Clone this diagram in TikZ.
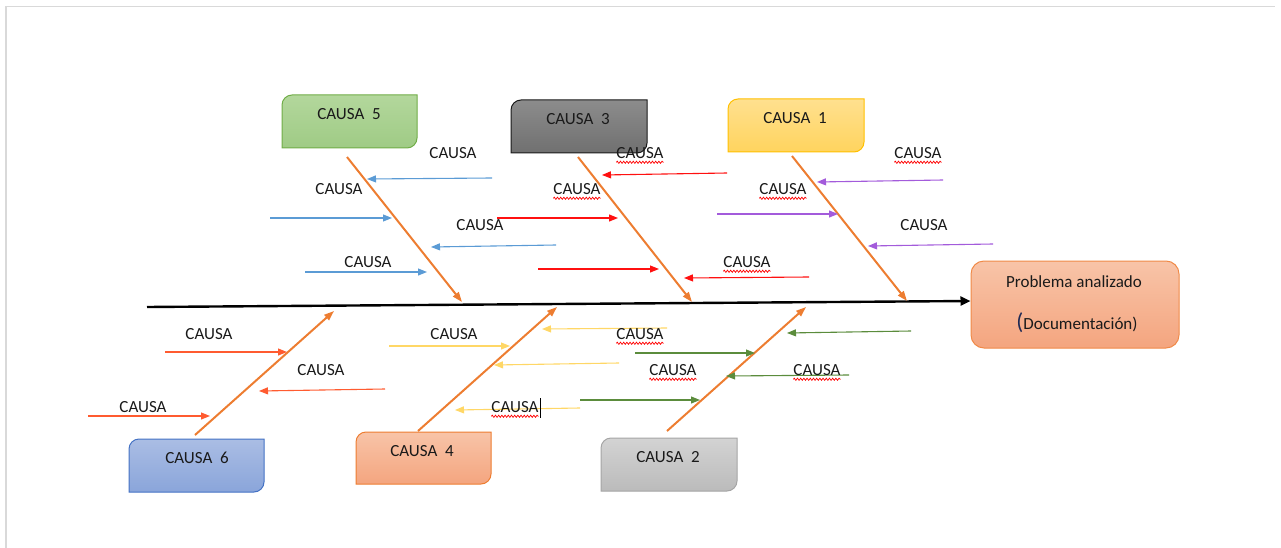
\documentclass[tikz,border=0pt]{standalone}
\usepackage{fontspec}
\setmainfont{Carlito}
\usetikzlibrary{arrows.meta,decorations.pathmorphing,calc}
\definecolor{frameg}{HTML}{D9D9D9}
\definecolor{boneor}{HTML}{ED7D31}
\definecolor{txt}{HTML}{1A1A1A}
\definecolor{twblue}{HTML}{5B9BD5}
\definecolor{twred}{HTML}{FF1010}
\definecolor{twpurp}{HTML}{A35BDB}
\definecolor{twora}{HTML}{FF5B30}
\definecolor{twyel}{HTML}{FFD766}
\definecolor{twgreen}{HTML}{5B8C3C}
\definecolor{gT}{HTML}{B3D79C}\definecolor{gB}{HTML}{9FCB85}\definecolor{gD}{HTML}{70AD47}
\definecolor{kT}{HTML}{8C8C8C}\definecolor{kB}{HTML}{707070}\definecolor{kD}{HTML}{1A1A1A}
\definecolor{yT}{HTML}{FFE08F}\definecolor{yB}{HTML}{FFD45E}\definecolor{yD}{HTML}{FFC000}
\definecolor{bT}{HTML}{AABDE4}\definecolor{bB}{HTML}{8AA5DA}\definecolor{bD}{HTML}{4472C4}
\definecolor{sT}{HTML}{F8C4A8}\definecolor{sB}{HTML}{F4A57F}\definecolor{sD}{HTML}{ED7D31}
\definecolor{lT}{HTML}{D3D3D3}\definecolor{lB}{HTML}{BBBBBB}\definecolor{lD}{HTML}{A5A5A5}
\definecolor{pD}{HTML}{F08A48}
\definecolor{parblue}{HTML}{1F2A55}
\tikzset{
  frame/.style={draw=frameg, line width=1.5pt},
  bone/.style={draw=boneor, fill=boneor, line width=2pt, -{Triangle[length=10pt,width=7pt]}},
  twig/.style={color=#1, line width=1.1pt, -{Triangle[length=9pt,width=7pt]}},
  spine/.style={draw=black, line width=2.4pt, -{Triangle[length=10pt,width=9pt]}},
  lbl/.style={font=\fontsize{17}{20}\selectfont, inner sep=0pt, text=txt},
  squig/.style={draw=red, line width=0.7pt, decorate, decoration={snake, amplitude=1.1pt, segment length=3.2pt}},
  bxg/.style={top color=gT, bottom color=gB, draw=gD, line width=1pt},
  bxk/.style={top color=kT, bottom color=kB, draw=kD, line width=1pt},
  bxy/.style={top color=yT, bottom color=yB, draw=yD, line width=1pt},
  bxb/.style={top color=bT, bottom color=bB, draw=bD, line width=1pt},
  bxs/.style={top color=sT, bottom color=sB, draw=sD, line width=1pt},
  bxl/.style={top color=lT, bottom color=lB, draw=lD, line width=1pt},
  probbox/.style={top color=sT, bottom color=sB, draw=pD, line width=1pt, rounded corners=13pt,
    minimum width=208pt, minimum height=87pt, inner sep=0pt},
}
% diagonal rounded box: x1 y1 x2 y2 style
\newcommand\dgbox[5]{%
  \path[#5] (#1,#4) -- (#1,{#2+10}) .. controls (#1,{#2+4.5}) and ({#1+4.5},#2) .. ({#1+10},#2) -- (#3,#2)
    -- (#3,{#4-10}) .. controls (#3,{#4-4.5}) and ({#3-4.5},#4) .. ({#3-10},#4) -- cycle;}
\newcommand\twig[4]{\coordinate (#1s) at (#2); \coordinate (#1e) at (#3);
  \draw[twig=#4] (#1s) -- (#1e);}
\newcommand\bonedraw[3]{\coordinate (#1s) at (#2); \coordinate (#1e) at (#3);
  \draw[bone] (#1s) -- (#1e);}
\newcommand\sqline[1]{\draw[squig] ([yshift=-3.5pt]#1.south west) -- ([yshift=-3.5pt]#1.south east);}
\begin{document}
\begin{tikzpicture}[x=1pt,y=-1pt]
\useasboundingbox (0,0) rectangle (1281,548);
\draw[frame] (6,548) -- (6,6.5) -- (1275,6.5);

% cause boxes
\dgbox{282}{95}{417}{148}{bxg}
\dgbox{511}{100}{647}{153}{bxk}
\dgbox{728}{99}{864}{152}{bxy}
\dgbox{129}{439}{264}{492}{bxb}
\dgbox{356}{432}{491}{484}{bxs}
\dgbox{601}{438}{737}{491}{bxl}
\node[lbl] (c5) at (349,114) {CAUSA\ \ 5};
\node[lbl] (c3) at (578,119) {CAUSA\ \ 3};
\node[lbl] (c1) at (795,118) {CAUSA\ \ 1};
\node[lbl] (c6) at (197,458) {CAUSA\ \ 6};
\node[lbl] (c4) at (422,451) {CAUSA\ \ 4};
\node[lbl] (c2) at (668,457) {CAUSA\ \ 2};

% problem box
\node[probbox] (prob) at (1075,304.5) {};
\node[lbl] (p1) at (1074,282) {Problema analizado};
\node[lbl] (p2) at (1077,323) {{\fontsize{23}{23}\selectfont\color{parblue}(}Documentación)};

% spine
\coordinate (spL) at (147,307);
\draw[spine] (spL) -- ([yshift=3.5pt]prob.west);

% bones
\bonedraw{t5}{347,157}{462,302}
\bonedraw{t3}{578,157}{692,302}
\bonedraw{t1}{792,156}{907,301}
\bonedraw{u6}{195,435}{334,311}
\bonedraw{u4}{418,431}{557,307}
\bonedraw{u2}{667,431}{806,307}

% twigs - cause 5 (blue)
\twig{a1}{492,178}{367,179}{twblue}
\twig{a2}{270,218}{392,218}{twblue}
\twig{a3}{556,245}{431,247}{twblue}
\twig{a4}{305,272}{427,272}{twblue}
% cause 3 (red)
\twig{r1}{727,173}{602,175}{twred}
\twig{r2}{497,218}{618,218}{twred}
\twig{r3}{538,269}{659,269}{twred}
\twig{r4}{809,277}{684,278}{twred}
% cause 1 (purple)
\twig{v1}{943,180}{817,182}{twpurp}
\twig{v2}{717,214}{838,214}{twpurp}
\twig{v3}{993,244}{868,246}{twpurp}
% cause 6 (orange-red)
\twig{o1}{165,352}{287,352}{twora}
\twig{o2}{385,389}{259,391}{twora}
\twig{o3}{88,416}{210,416}{twora}
% cause 4 (yellow)
\twig{y1}{389,346}{510,346}{twyel}
\twig{y2}{667,328}{542,329}{twyel}
\twig{y3}{619,363}{494,365}{twyel}
\twig{y4}{580,408}{455,410}{twyel}
% cause 2 (green)
\twig{g1}{911,331}{787,333}{twgreen}
\twig{g2}{635,353}{755,353}{twgreen}
\twig{g3}{849,375}{726,376}{twgreen}
\twig{g4}{580,400}{700,400}{twgreen}

% labels
\node[lbl] (l1) at (453,153) {CAUSA};
\node[lbl] (l2) at (339,189) {CAUSA};
\node[lbl] (l3) at (480,225) {CAUSA};
\node[lbl] (l4) at (368,262) {CAUSA};
\node[lbl] (l5) at (640,153) {CAUSA}; \sqline{l5}
\node[lbl] (l6) at (577,189) {CAUSA}; \sqline{l6}
\node[lbl] (l7) at (747,262) {CAUSA}; \sqline{l7}
\node[lbl] (l8) at (918,153) {CAUSA}; \sqline{l8}
\node[lbl] (l9) at (783,189) {CAUSA}; \sqline{l9}
\node[lbl] (l10) at (924,225) {CAUSA};
\node[lbl] (l11) at (209,334) {CAUSA};
\node[lbl] (l12) at (321,370) {CAUSA};
\node[lbl] (l13) at (143,407) {CAUSA};
\node[lbl] (l14) at (454,334) {CAUSA};
\node[lbl] (l15) at (640,334) {CAUSA}; \sqline{l15}
\node[lbl] (l16) at (515,407) {CAUSA}; \sqline{l16}
\node[lbl] (l17) at (673,370) {CAUSA}; \sqline{l17}
\node[lbl] (l18) at (817,370) {CAUSA}; \sqline{l18}
% text cursor
\draw[black, line width=0.7pt] ([xshift=1.5pt,yshift=-5pt]l16.south east) -- ([xshift=1.5pt,yshift=3pt]l16.north east);
\end{tikzpicture}
\end{document}
